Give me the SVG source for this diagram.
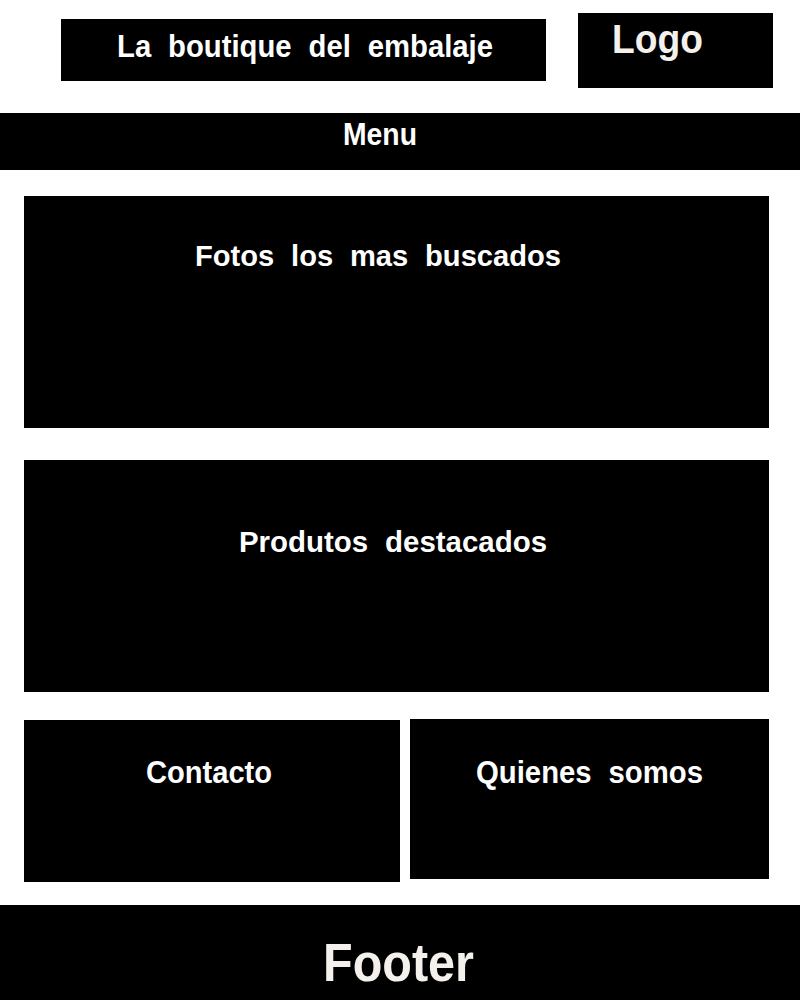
<svg xmlns="http://www.w3.org/2000/svg" width="800" height="1000" viewBox="0 0 800 1000">
<style>
.box{fill:#000}
.t{fill:#fff;font-family:"Liberation Sans",Arial,sans-serif;font-weight:bold;word-spacing:0.3em}
.c{fill:#f4f0ec;font-family:"Liberation Sans",Arial,sans-serif;font-weight:bold}
</style>
<rect width="800" height="1000" fill="#fff"/>
<g id="title"><rect class="box" x="61" y="19" width="485" height="62"/><text class="t" x="117" y="57" font-size="31" textLength="376" lengthAdjust="spacingAndGlyphs">La boutique del embalaje</text></g>
<g id="logo"><rect class="box" x="578" y="13" width="195" height="75"/><text class="c" x="612" y="53" font-size="40" textLength="91" lengthAdjust="spacingAndGlyphs">Logo</text></g>
<g id="menu"><rect class="box" x="0" y="113" width="800" height="57"/><text class="t" x="343" y="145" font-size="31" textLength="74" lengthAdjust="spacingAndGlyphs">Menu</text></g>
<g id="fotos"><rect class="box" x="24" y="196" width="745" height="232"/><text class="t" x="195" y="266" font-size="29" textLength="366" lengthAdjust="spacingAndGlyphs">Fotos los mas buscados</text></g>
<g id="productos"><rect class="box" x="24" y="460" width="745" height="232"/><text class="t" x="239" y="552" font-size="30" textLength="308" lengthAdjust="spacingAndGlyphs">Produtos destacados</text></g>
<g id="contacto"><rect class="box" x="24" y="720" width="376" height="162"/><text class="t" x="146" y="783" font-size="31" textLength="126" lengthAdjust="spacingAndGlyphs">Contacto</text></g>
<g id="quienes"><rect class="box" x="410" y="719" width="359" height="160"/><text class="t" x="476" y="783" font-size="31" textLength="227" lengthAdjust="spacingAndGlyphs">Quienes somos</text></g>
<g id="footer"><rect class="box" x="0" y="905" width="800" height="95"/><text class="c" x="323" y="981" font-size="54" textLength="151" lengthAdjust="spacingAndGlyphs">Footer</text></g>
<g id="connectors"/>
</svg>
